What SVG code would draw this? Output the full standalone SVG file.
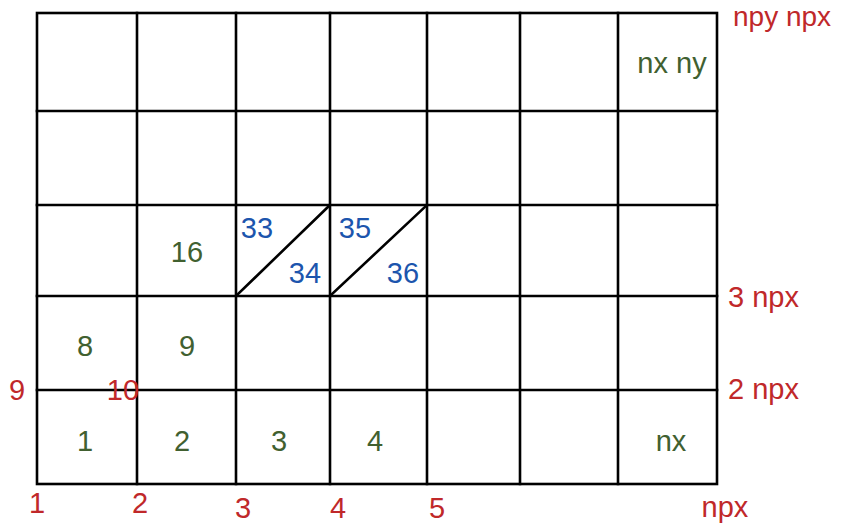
<svg xmlns="http://www.w3.org/2000/svg" width="845" height="528" viewBox="0 0 845 528">
<style>
.g{stroke:#000;stroke-width:2.6;fill:none;stroke-linecap:square}
text{font-family:"Liberation Sans",Arial,sans-serif;font-size:29px}
.r{fill:#c0282a}
.gr{fill:#416030}
.b{fill:#1c55ad}
</style>
<rect width="845" height="528" fill="#fff"/>
<g id="grid" class="g">
<rect x="37" y="13" width="680" height="471"/>
<path d="M137 13V484M236 13V484M330 13V484M427 13V484M520 13V484M618 13V484"/>
<path d="M37 111H717M37 205H717M37 296H717M37 390H717"/>
<path d="M236 296L330 205M330 296L427 205"/>
</g>
<g id="cell-labels" class="gr" text-anchor="middle">
<text x="85" y="451">1</text>
<text x="182" y="451">2</text>
<text x="279" y="451">3</text>
<text x="375" y="451">4</text>
<text x="671" y="451">nx</text>
<text x="85" y="356">8</text>
<text x="187" y="356">9</text>
<text x="187" y="262">16</text>
<text x="672" y="73">nx ny</text>
</g>
<g id="triangle-labels" class="b" text-anchor="middle">
<text x="257" y="238">33</text>
<text x="305" y="283">34</text>
<text x="355" y="238">35</text>
<text x="403" y="283">36</text>
</g>
<g id="process-labels" class="r">
<text x="37" y="513" text-anchor="middle">1</text>
<text x="140" y="513" text-anchor="middle">2</text>
<text x="243" y="518" text-anchor="middle">3</text>
<text x="338" y="518" text-anchor="middle">4</text>
<text x="437" y="518" text-anchor="middle">5</text>
<text x="725" y="517" text-anchor="middle">npx</text>
<text x="17" y="400" text-anchor="middle">9</text>
<text x="123" y="400" text-anchor="middle">10</text>
<text x="728" y="399">2 npx</text>
<text x="728" y="307">3 npx</text>
<text x="733" y="26" style="font-size:28px">npy npx</text>
</g>
</svg>
